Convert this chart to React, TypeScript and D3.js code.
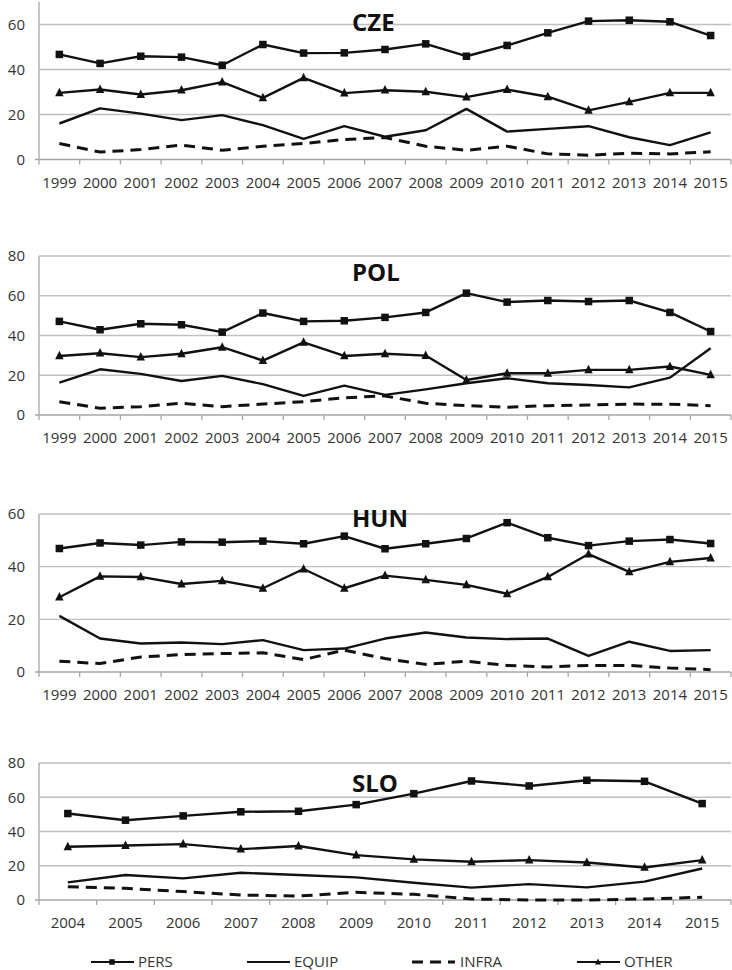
import React from 'react';
import * as d3 from 'd3';

// categories
const yearsLong = ['1999', '2000', '2001', '2002', '2003', '2004', '2005', '2006', '2007', '2008', '2009', '2010', '2011', '2012', '2013', '2014', '2015'];
const yearsShort = ['2004', '2005', '2006', '2007', '2008', '2009', '2010', '2011', '2012', '2013', '2014', '2015'];

// CZE
const czePers = [46.7, 42.7, 45.9, 45.5, 41.9, 51.1, 47.3, 47.4, 48.9, 51.4, 45.9, 50.7, 56.3, 61.5, 61.9, 61.2, 55.1];
const czeEquip = [16.0, 22.7, 20.4, 17.5, 19.7, 15.3, 9.2, 14.8, 10.1, 13.0, 22.5, 12.4, 13.6, 14.8, 9.9, 6.4, 12.1];
const czeInfra = [7.1, 3.3, 4.4, 6.4, 4.1, 5.9, 7.1, 8.9, 9.8, 5.9, 4.1, 5.9, 2.5, 1.9, 2.8, 2.5, 3.4];
const czeOther = [29.6, 31.1, 28.9, 30.8, 34.4, 27.4, 36.3, 29.5, 30.8, 30.1, 27.7, 31.1, 27.9, 21.8, 25.6, 29.6, 29.6];

// POL
const polPers = [47.1, 42.9, 45.9, 45.4, 41.7, 51.3, 47.1, 47.4, 49.1, 51.6, 61.3, 56.8, 57.6, 57.1, 57.6, 51.6, 42.0];
const polEquip = [16.3, 23.0, 20.7, 17.1, 19.7, 15.5, 9.6, 14.8, 10.1, 12.9, 16.0, 18.5, 16.0, 15.1, 13.9, 18.8, 33.6];
const polInfra = [6.7, 3.4, 4.2, 5.9, 4.2, 5.5, 6.7, 8.7, 9.6, 5.9, 4.7, 3.9, 4.7, 5.0, 5.5, 5.4, 4.7];
const polOther = [29.7, 31.1, 29.1, 30.8, 34.1, 27.4, 36.5, 29.7, 30.8, 29.9, 17.6, 21.0, 21.0, 22.7, 22.7, 24.4, 20.2];

// HUN
const hunPers = [46.9, 49.0, 48.2, 49.4, 49.3, 49.7, 48.7, 51.6, 46.8, 48.7, 50.7, 56.7, 51.0, 48.0, 49.7, 50.3, 48.8];
const hunEquip = [21.3, 12.7, 10.8, 11.2, 10.6, 12.1, 8.3, 8.9, 12.7, 15.0, 13.1, 12.5, 12.7, 6.1, 11.5, 8.0, 8.3];
const hunInfra = [4.1, 3.2, 5.7, 6.6, 7.0, 7.3, 4.7, 8.3, 5.1, 2.9, 4.1, 2.5, 1.9, 2.5, 2.5, 1.5, 0.9];
const hunOther = [28.4, 36.3, 36.1, 33.4, 34.6, 31.8, 39.1, 31.8, 36.6, 35.0, 33.1, 29.7, 36.1, 44.8, 38.0, 41.8, 43.3];

// SLO
const sloPers = [50.5, 46.6, 49.1, 51.5, 51.8, 55.7, 62.1, 69.5, 66.6, 69.9, 69.3, 56.3];
const sloEquip = [10.3, 14.6, 12.6, 15.9, 14.6, 13.2, 10.1, 7.2, 9.3, 7.4, 10.7, 18.4];
const sloInfra = [7.8, 6.8, 4.9, 2.9, 2.3, 4.5, 3.3, 0.6, 0.0, 0.0, 0.6, 1.6];
const sloOther = [31.1, 31.8, 32.6, 29.7, 31.5, 26.2, 23.7, 22.3, 23.3, 21.9, 19.0, 23.3];

const seriesNames = ['PERS', 'EQUIP', 'INFRA', 'OTHER'];
const yTicks = [0, 20, 40, 60, 80];

const INK = '#111';
const TEXT = '#333';
const GRID = '#c0c0c0';
const AXIS = '#a6a6a6';
const FONT = '"Open Sans", "DejaVu Sans", sans-serif';

const panels = [
  { title: 'CZE', years: yearsLong, series: [czePers, czeEquip, czeInfra, czeOther], max: 70, top: 2, bottom: 159.5, titleY: 30.5 },
  { title: 'POL', years: yearsLong, series: [polPers, polEquip, polInfra, polOther], max: 80, top: 256, bottom: 415, titleY: 280.5 },
  { title: 'HUN', years: yearsLong, series: [hunPers, hunEquip, hunInfra, hunOther], max: 60, top: 514, bottom: 672, titleY: 527 },
  { title: 'SLO', years: yearsShort, series: [sloPers, sloEquip, sloInfra, sloOther], max: 80, top: 763, bottom: 900, titleY: 792 },
];

const left = 39;
const right = 731;

const Square = ({ x, y, s }: { x: number; y: number; s: number }) => (
  <rect x={x - s / 2} y={y - s / 2} width={s} height={s} fill={INK} />
);
const Triangle = ({ x, y, s }: { x: number; y: number; s: number }) => (
  <path d={`M${x},${y - s * 0.6}L${x + s / 2},${y + s * 0.4}L${x - s / 2},${y + s * 0.4}Z`} fill={INK} />
);

const Panel = ({ p }: { p: typeof panels[number] }) => {
  const x = d3.scaleBand<string>().domain(p.years).range([left, right]).padding(0);
  const y = d3.scaleLinear().domain([0, p.max]).range([p.bottom, p.top]);
  const cx = (yr: string) => (x(yr) as number) + x.bandwidth() / 2;
  const line = d3.line<number>().x((_, i) => cx(p.years[i])).y(d => y(d));
  const ticks = yTicks.filter(t => t <= p.max);
  const bounds = d3.range(p.years.length + 1).map(i => left + i * x.bandwidth());
  return (
    <g>
      {ticks.filter(t => t > 0).map(t => (
        <line key={t} x1={left} x2={right} y1={y(t)} y2={y(t)} stroke={GRID} strokeWidth={1.3} />
      ))}
      <line x1={left} x2={left} y1={p.top} y2={p.bottom} stroke={AXIS} strokeWidth={1.3} />
      <line x1={35} x2={right} y1={p.bottom} y2={p.bottom} stroke={AXIS} strokeWidth={1.3} />
      {bounds.map((b, i) => (
        <line key={i} x1={b} x2={b} y1={p.bottom} y2={p.bottom + 5} stroke={AXIS} strokeWidth={1.3} />
      ))}
      {ticks.map(t => (
        <text key={t} x={25} y={y(t)} dy="0.35em" textAnchor="end" fontSize={15} fill={TEXT}>{t}</text>
      ))}
      {p.years.map(yr => (
        <text key={yr} x={cx(yr)} y={p.bottom + 23} dy="0.35em" textAnchor="middle" fontSize={15} fill={TEXT}>{yr}</text>
      ))}
      <text x={352} y={p.titleY} fontSize={24} fontWeight="bold" fill={INK}>{p.title}</text>
      <path d={line(p.series[1]) || ''} fill="none" stroke={INK} strokeWidth={2.4} strokeLinejoin="round" />
      <path d={line(p.series[2]) || ''} fill="none" stroke={INK} strokeWidth={3} strokeDasharray="11 7" />
      <path d={line(p.series[3]) || ''} fill="none" stroke={INK} strokeWidth={2.4} strokeLinejoin="round" />
      <path d={line(p.series[0]) || ''} fill="none" stroke={INK} strokeWidth={2.4} strokeLinejoin="round" />
      {p.series[0].map((v, i) => <Square key={i} x={cx(p.years[i])} y={y(v)} s={7.5} />)}
      {p.series[3].map((v, i) => <Triangle key={i} x={cx(p.years[i])} y={y(v)} s={8.5} />)}
    </g>
  );
};

const legendX = [91, 247, 412, 577];

const Legend = () => {
  const ly = 962;
  return (
    <g>
      {seriesNames.map((name, i) => {
        const x0 = legendX[i];
        return (
          <g key={name}>
            <line x1={x0} x2={x0 + 43} y1={ly} y2={ly} stroke={INK} strokeWidth={i === 2 ? 3 : 2}
              strokeDasharray={i === 2 ? '11 7' : undefined} />
            {i === 0 && <Square x={x0 + 21} y={ly} s={5.5} />}
            {i === 3 && <Triangle x={x0 + 21} y={ly} s={6} />}
            <text x={x0 + (i === 2 ? 48 : 47)} y={ly} dy="0.35em" fontSize={15} fill={TEXT}>{name}</text>
          </g>
        );
      })}
    </g>
  );
};

export default function App() {
  return (
    <svg width={732} height={970} style={{ position: 'absolute', left: 0, top: 0, background: '#fff' }} fontFamily={FONT}>
      <rect width={732} height={970} fill="#fff" />
      {panels.map(p => <Panel key={p.title} p={p} />)}
      <Legend />
    </svg>
  );
}
